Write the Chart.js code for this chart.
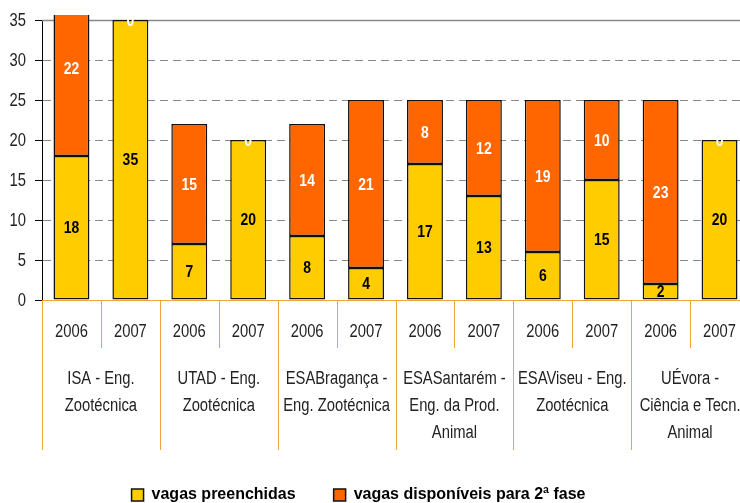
<!DOCTYPE html>
<html>
<head>
<meta charset="utf-8">
<script src="https://cdn.jsdelivr.net/npm/chart.js@4.4.1/dist/chart.umd.min.js"></script>
<style>
  html, body { margin: 0; padding: 0; background: #fff; overflow: hidden; }
  #wrap { width: 740px; height: 503px; overflow: hidden; }
</style>
</head>
<body>
<div id="wrap"><canvas id="myChart" width="760" height="503"></canvas></div>
<script>
var years = ['2006', '2007', '2006', '2007', '2006', '2007', '2006', '2007', '2006', '2007', '2006', '2007'];
var groups = [
  ['ISA - Eng.', 'Zootécnica'],
  ['UTAD - Eng.', 'Zootécnica'],
  ['ESABragança -', 'Eng. Zootécnica'],
  ['ESASantarém -', 'Eng. da Prod.', 'Animal'],
  ['ESAViseu - Eng.', 'Zootécnica'],
  ['UÉvora -', 'Ciência e Tecn.', 'Animal']
];
var preenchidas = [18, 35, 7, 20, 8, 4, 17, 13, 6, 15, 2, 20];
var disponiveis = [22, 0, 15, 0, 14, 21, 8, 12, 19, 10, 23, 0];
var yTicks = [0, 5, 10, 15, 20, 25, 30, 35];

var sans = "'Liberation Sans', Arial, sans-serif";
var lineCol = '#F2A43A';

// no narrow font installed -> squeeze Liberation Sans a bit
function narrowText(ctx, txt, x, y) {
  ctx.save();
  ctx.translate(x, y);
  ctx.scale(0.82, 1);
  ctx.fillText(txt, 0, 0);
  ctx.restore();
}

// solid line on top of the plot (at 35)
var topLine = {
  id: 'topLine',
  beforeDatasetsDraw: function (chart) {
    var ctx = chart.ctx, a = chart.chartArea;
    var y = Math.round(chart.scales.y.getPixelForValue(35)) + 0.5;
    ctx.save();
    ctx.strokeStyle = '#888';
    ctx.lineWidth = 1.5;
    ctx.beginPath();
    ctx.moveTo(a.left, y);
    ctx.lineTo(a.right, y);
    ctx.stroke();
    ctx.restore();
  }
};

// numbers inside the bars
var valueLabels = {
  id: 'valueLabels',
  afterDatasetsDraw: function (chart) {
    var ctx = chart.ctx;
    ctx.save();
    ctx.font = 'bold 17px ' + sans;
    ctx.textAlign = 'center';
    ctx.textBaseline = 'middle';
    chart.data.datasets.forEach(function (ds, i) {
      chart.getDatasetMeta(i).data.forEach(function (bar, j) {
        var p = bar.getProps(['x', 'y', 'base'], true);
        ctx.fillStyle = i == 0 ? '#000' : '#fff';
        narrowText(ctx, ds.data[j], p.x, (p.y + p.base) / 2 + 1);
      });
    });
    ctx.restore();
  }
};

// y tick labels, years, separators and school names
var axisText = {
  id: 'axisText',
  afterDraw: function (chart) {
    var ctx = chart.ctx, x = chart.scales.x, y = chart.scales.y;
    var y0 = chart.chartArea.bottom;
    ctx.save();
    ctx.font = '18px ' + sans;
    ctx.fillStyle = '#222';
    ctx.textBaseline = 'middle';
    ctx.textAlign = 'right';
    yTicks.forEach(function (v) {
      narrowText(ctx, String(v), chart.chartArea.left - 16, y.getPixelForValue(v) + 1);
    });

    ctx.strokeStyle = lineCol;
    ctx.lineWidth = 1;
    for (var i = 0; i <= years.length; i++) {
      var px = Math.round(x.getPixelForValue(i - 0.5)) + 0.5;
      ctx.beginPath();
      ctx.moveTo(px, y0);
      ctx.lineTo(px, i % 2 == 0 ? y0 + 150 : y0 + 48);
      ctx.stroke();
    }

    ctx.textAlign = 'center';
    years.forEach(function (yr, i) {
      narrowText(ctx, yr, x.getPixelForValue(i), y0 + 32);
    });
    groups.forEach(function (g, k) {
      var cx = x.getPixelForValue(k * 2 + 0.5);
      g.forEach(function (line, n) {
        narrowText(ctx, line, cx, y0 + 79 + n * 27);
      });
    });
    ctx.restore();
  }
};

// move legend a bit, like the original
var legendShift = {
  id: 'legendShift',
  afterLayout: function (chart) {
    chart.legend.left -= 16;
    chart.legend.right -= 16;
    chart.legend.top += 10;
    chart.legend.bottom += 10;
  }
};

var ctx = document.getElementById('myChart').getContext('2d');
var myChart = new Chart(ctx, {
  type: 'bar',
  data: {
    labels: years,
    datasets: [{
      label: 'vagas preenchidas',
      data: preenchidas,
      backgroundColor: '#FFCC00',
      borderColor: '#111',
      borderWidth: 1.5,
      borderSkipped: false,
      barPercentage: 0.61,
      categoryPercentage: 1
    }, {
      label: 'vagas disponíveis para 2ª fase',
      data: disponiveis,
      backgroundColor: '#FF6600',
      borderColor: '#111',
      borderWidth: 1.5,
      borderSkipped: false,
      barPercentage: 0.61,
      categoryPercentage: 1,
      clip: { left: 2, top: 5, right: 2, bottom: 2 }
    }]
  },
  options: {
    responsive: false,
    animation: false,
    layout: { padding: { top: 20, right: 11, left: 0, bottom: 0 } },
    plugins: {
      tooltip: { enabled: false },
      legend: {
        position: 'bottom',
        labels: {
          font: { family: sans, size: 16, weight: 'bold' },
          color: '#000',
          boxWidth: 12,
          boxHeight: 12,
          padding: 38
        }
      }
    },
    scales: {
      x: {
        stacked: true,
        grid: { display: false, drawTicks: false },
        border: { color: lineCol },
        ticks: { display: false },
        afterFit: function (s) { s.height = 503 - 300 - s.chart.legend.height; }
      },
      y: {
        stacked: true,
        min: 0,
        max: 35,
        afterFit: function (s) { s.width = 42; },
        afterBuildTicks: function (s) { s.ticks = yTicks.map(function (v) { return { value: v }; }); },
        ticks: { display: false },
        grid: { color: '#888', tickColor: '#000', tickLength: 7, tickBorderDash: [] },
        border: { color: '#000', dash: [8, 5] }
      }
    }
  },
  plugins: [topLine, valueLabels, axisText, legendShift]
});
</script>
</body>
</html>
